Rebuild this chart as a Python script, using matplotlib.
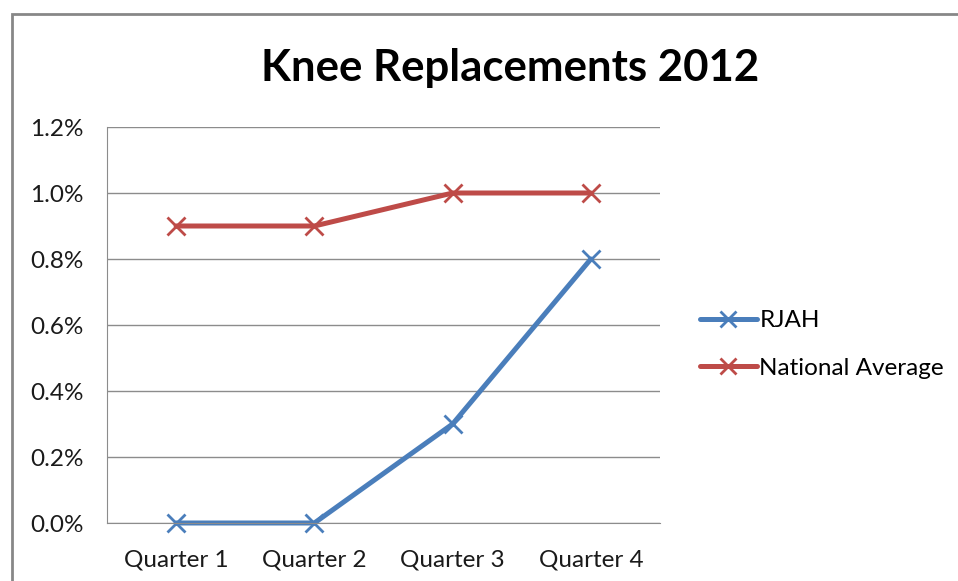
import matplotlib.pyplot as plt
from matplotlib.patches import Rectangle
from matplotlib.ticker import FuncFormatter

quarters = ['Quarter 1', 'Quarter 2', 'Quarter 3', 'Quarter 4']
rjah = [0.0, 0.0, 0.3, 0.8]
national_avg = [0.9, 0.9, 1.0, 1.0]

plt.rcParams['font.family'] = ['Lato', 'DejaVu Sans']

fig = plt.figure(figsize=(9.58, 5.81), dpi=100)
# outer chart border (cut off on right/bottom like the screenshot)
fig.patches.append(Rectangle((12 / 958, -0.1), 1.2, 1 - 14 / 581 + 0.1,
                             transform=fig.transFigure, fill=False,
                             edgecolor='#878787', linewidth=2))

ax = fig.add_axes([107 / 958, 1 - 523 / 581, 553 / 958, 396 / 581])
x = range(len(quarters))
ax.plot(x, rjah, color='#4A7EBB', lw=3.6, marker='x', ms=13, mew=2,
        mec='#4A7EBB', label='RJAH', solid_capstyle='round', clip_on=False)
ax.plot(x, national_avg, color='#BE4B48', lw=3.6, marker='x', ms=13, mew=2,
        mec='#BE4B48', label='National Average', solid_capstyle='round',
        clip_on=False)

ax.set_xlim(-0.5, 3.5)
ax.set_ylim(0, 1.2)
ax.set_yticks([0, 0.2, 0.4, 0.6, 0.8, 1.0, 1.2])
ax.yaxis.set_major_formatter(FuncFormatter(lambda v, p: f'{v:.1f}%'))
ax.set_xticks(list(x))
ax.set_xticklabels(quarters)
ax.grid(axis='y', color='#8C8C8C', lw=1)
ax.set_axisbelow(True)
for s in ['top', 'right']:
    ax.spines[s].set_visible(False)
for s in ['left', 'bottom']:
    ax.spines[s].set_color('#8C8C8C')
ax.tick_params(length=0, labelsize=17.5, colors='#1a1a1a')
ax.tick_params(axis='y', pad=17)
ax.tick_params(axis='x', pad=19)

fig.text(510 / 958, 1 - 68 / 581, 'Knee Replacements 2012', ha='center',
         va='center', fontsize=31.5, fontweight='bold', color='black')

ax.legend(loc='center left', bbox_to_anchor=(1.0325, 0.451), frameon=False,
          fontsize=17.5, handlelength=2.35, handletextpad=0.1,
          labelspacing=1.1, markerscale=0.9)

fig.savefig('out.png', dpi=100)
